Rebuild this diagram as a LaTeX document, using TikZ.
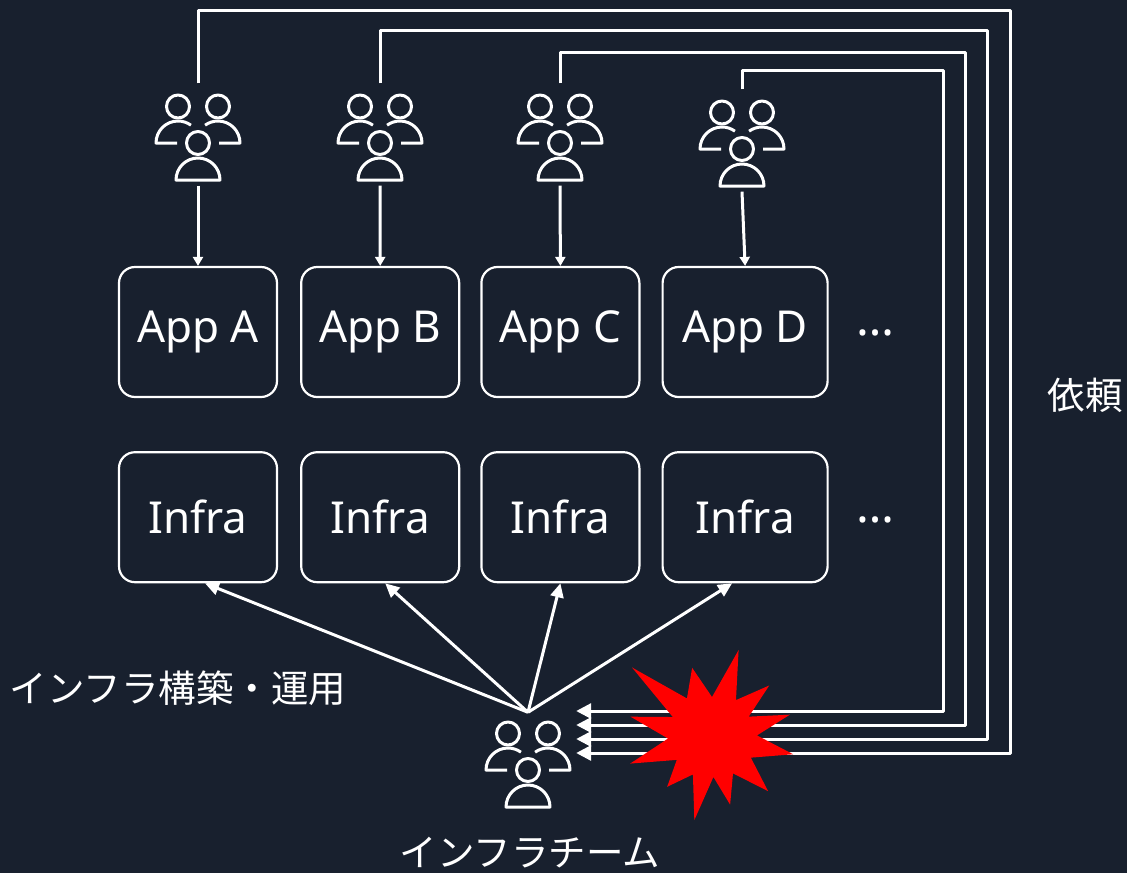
\documentclass[tikz,border=0pt]{standalone}
\usepackage{fontspec}
\setmainfont{Noto Sans}
\newfontfamily\jpfont{Noto Sans CJK JP}
\usetikzlibrary{arrows.meta,calc,positioning}
\definecolor{bgnavy}{HTML}{18202E}
\definecolor{burstred}{HTML}{FF0000}

\begin{document}
\begin{tikzpicture}[x=1pt,y=-1pt,line join=round,
  box/.style={draw=white,line width=2.2pt,rounded corners=16pt,minimum width=158pt,minimum height=130pt,inner sep=0pt,text=white,font=\fontsize{44}{50}\selectfont},
  grp/.style={minimum width=86pt,minimum height=85pt,inner sep=0pt},
  person/.pic={
    \draw[white,line width=3pt] (-20,-31.5) circle[radius=11.5] (20,-31.5) circle[radius=11.5] (0,5) circle[radius=11.5];
    \draw[white,line width=3pt] (-21,5) -- (-42,5) arc[start angle=180,end angle=306,radius=22];
    \draw[white,line width=3pt] (21,5) -- (42,5) arc[start angle=360,end angle=234,radius=22];
    \draw[white,line width=3pt] (-22,42) arc[start angle=180,end angle=360,radius=22] -- cycle;
  },
  link/.style={draw=white,line width=3pt},
  lbl/.style={text=white,font=\jpfont\fontsize{37.5}{42}\selectfont},
  dots/.style={text=white,font=\fontsize{48}{50}\selectfont}]
\useasboundingbox (0,0) rectangle (1127,873);
\fill[bgnavy] (0,0) rectangle (1127,873);

\node[box] (aA) at (198,332) {App A};
\node[box,right=22pt of aA] (aB) {App B};
\node[box,right=20pt of aB] (aC) {App C};
\node[box,minimum width=165pt,right=21pt of aC] (aD) {App D};
\node[dots] (mA) at (875,333) {…};

\node[box,below=53pt of aA] (iA) {Infra};
\node[box,below=53pt of aB] (iB) {Infra};
\node[box,below=53pt of aC] (iC) {Infra};
\node[box,minimum width=165pt,below=53pt of aD] (iD) {Infra};
\node[dots] (mI) at (875,520) {…};

\node[grp] (uA) at (198,138) {};
\node[grp] (uB) at (380,138) {};
\node[grp] (uC) at (560,138) {};
\node[grp] (uD) at (742,144) {};
\node[grp] (team) at (528,765) {};
\foreach \u in {uA,uB,uC,uD,team} \pic at (\u) {person};

\foreach \u/\a in {uA/aA,uB/aB,uC/aC,uD/aD}
  \draw[link,-{Triangle[length=9pt,width=10pt]}] ($(\u.south)+(0,5)$) -- (\a.north);

\foreach \u/\x/\y/\t in {uA/1010/10/12,uB/987/30/26,uC/965/52/40,uD/943/70/54}
  \draw[link,-{Triangle[length=15pt,width=15pt]}] ($(\u.north)+(0,-12)$) |- (\x,\y) |- ($(team.east)+(5,-\t)$);

\coordinate (bang) at (712,737);
\fill[burstred] ($(bang)+(-73:91)$) \foreach \a/\r in {-57/44,-42/77,-29/42,-16/81,-2/45,12/83,28/44,44/78,60/42,75/70,88/40,102/85,117/42,132/67,147/42,162/86,178/44,194/84,207/44,221/106,237/46,254/72,270/40} {-- ($(bang)+(\a:\r)$)} -- cycle;

\coordinate (apex) at ($(team.north)+(0,-10)$);
\draw[link,-{Triangle[length=14pt,width=13pt]}] (apex) -- ([xshift=7pt]iA.south);
\draw[link,-{Triangle[length=14pt,width=13pt]}] (apex) -- ([xshift=5pt]iB.south);
\draw[link,-{Triangle[length=14pt,width=13pt]}] (apex) -- (iC.south);
\draw[link,-{Triangle[length=14pt,width=13pt]}] (apex) -- ([xshift=-13pt]iD.south);

\node[lbl] (ops) at (178,688) {インフラ構築・運用};
\node[lbl] (tname) at (530,853) {インフラチーム};
\node[lbl] (req) at (1085,395) {依頼};
\end{tikzpicture}
\end{document}
